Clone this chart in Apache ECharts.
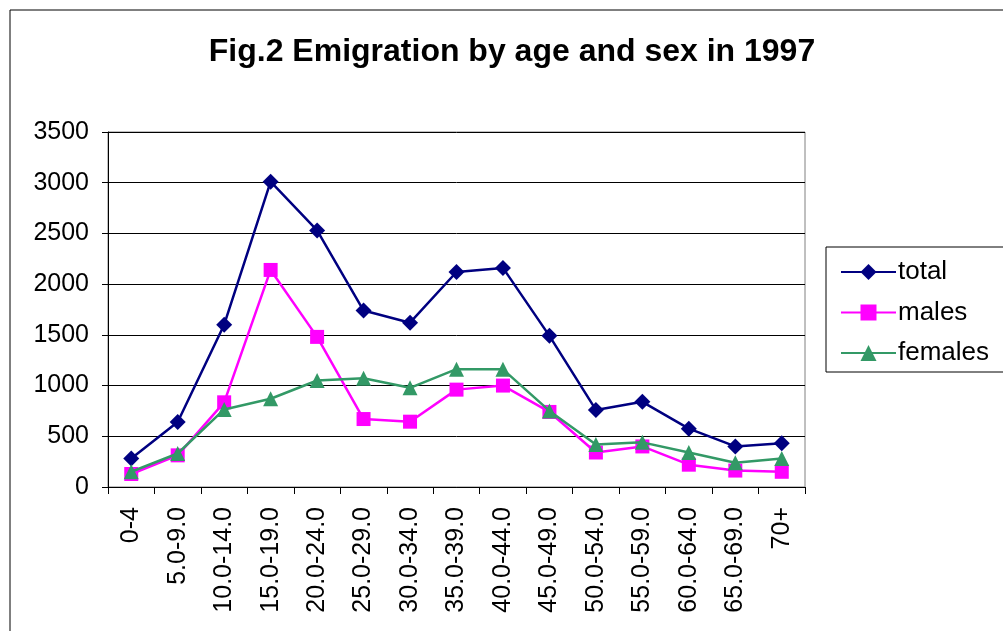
<!DOCTYPE html>
<html>
<head>
<meta charset="utf-8">
<script src="https://cdn.jsdelivr.net/npm/echarts@6/dist/echarts.min.js"></script>
<style>
html, body { margin: 0; padding: 0; background: #fff; }
#chart { width: 1003px; height: 631px; }
</style>
</head>
<body>
<div id="chart"></div>
<script>
// Data
var ageGroups = ['0-4', '5.0-9.0', '10.0-14.0', '15.0-19.0', '20.0-24.0', '25.0-29.0', '30.0-34.0',
    '35.0-39.0', '40.0-44.0', '45.0-49.0', '50.0-54.0', '55.0-59.0', '60.0-64.0', '65.0-69.0', '70+'];
var totalValues = [280, 640, 1600, 3010, 2530, 1740, 1620, 2120, 2160, 1490, 760, 840, 575, 400, 432];
var maleValues = [128, 312, 835, 2140, 1480, 670, 644, 960, 1000, 740, 340, 400, 220, 162, 150];
var femaleValues = [150, 330, 765, 870, 1050, 1072, 978, 1162, 1160, 750, 420, 440, 340, 240, 280];

var chart_element = document.getElementById('chart');

if (chart_element) {
    var chart = echarts.init(chart_element);

    var fontFam = 'Arial, "Liberation Sans", sans-serif';

    chart.setOption({
        animation: false,
        textStyle: {
            fontFamily: fontFam
        },

        // Title
        title: {
            text: 'Fig.2 Emigration by age and sex in 1997',
            left: 507,
            textAlign: 'center',
            top: 31,
            textStyle: {
                fontSize: 32,
                fontWeight: 'bold',
                color: '#000',
                fontFamily: fontFam
            }
        },

        // Outer frame + legend box
        graphic: [{
            type: 'rect',
            shape: { x: 10, y: 10, width: 1010, height: 640 },
            style: { fill: 'none', stroke: '#000', lineWidth: 1 }
        }, {
            type: 'rect',
            shape: { x: 826, y: 247, width: 190, height: 125 },
            style: { fill: '#fff', stroke: '#000', lineWidth: 1 },
            z: 1
        }],

        // Legend
        legend: {
            orient: 'vertical',
            left: 835,
            top: 254,
            itemWidth: 55,
            itemHeight: 20,
            itemGap: 14.5,
            z: 5,
            textStyle: {
                fontSize: 26,
                color: '#000',
                padding: [0, 0, 0, -3]
            },
            data: ['total', 'males', 'females']
        },

        grid: {
            left: 108,
            right: 198,
            top: 132,
            bottom: 144,
            show: true,
            borderColor: '#808080',
            borderWidth: 1,
            backgroundColor: 'transparent'
        },

        xAxis: [{
            type: 'category',
            boundaryGap: true,
            data: ageGroups,
            axisLine: { lineStyle: { color: '#000', width: 1 } },
            axisTick: { show: true, length: 7, alignWithLabel: false, lineStyle: { color: '#000' } },
            axisLabel: {
                rotate: 90,
                interval: 0,
                fontSize: 25,
                color: '#000',
                margin: 20
            }
        }],

        yAxis: [{
            type: 'value',
            min: 0,
            max: 3500,
            interval: 500,
            axisLine: { show: true, lineStyle: { color: '#000', width: 1 } },
            axisTick: { show: true, length: 6, lineStyle: { color: '#000' } },
            axisLabel: {
                fontSize: 25,
                color: '#000',
                margin: 19,
                formatter: function (value) {
                    return String(value);
                }
            },
            splitLine: { show: true, lineStyle: { color: '#000', width: 1 } }
        }],

        series: [{
            name: 'total',
            type: 'line',
            data: totalValues,
            symbol: 'diamond',
            symbolSize: 16,
            color: '#000080',
            lineStyle: { width: 2.5, color: '#000080' },
            itemStyle: { color: '#000080' },
            z: 4
        }, {
            name: 'males',
            type: 'line',
            data: maleValues,
            symbol: 'rect',
            symbolSize: 14,
            color: '#ff00ff',
            lineStyle: { width: 2.5, color: '#ff00ff' },
            itemStyle: { color: '#ff00ff' },
            z: 3
        }, {
            name: 'females',
            type: 'line',
            data: femaleValues,
            symbol: 'triangle',
            symbolSize: 15,
            color: '#339966',
            lineStyle: { width: 2.5, color: '#339966' },
            itemStyle: { color: '#339966' },
            z: 5
        }]
    });

    var resizeCharts;
    window.addEventListener('resize', function () {
        clearTimeout(resizeCharts);
        resizeCharts = setTimeout(function () {
            chart.resize();
        }, 200);
    });
}
</script>
</body>
</html>
